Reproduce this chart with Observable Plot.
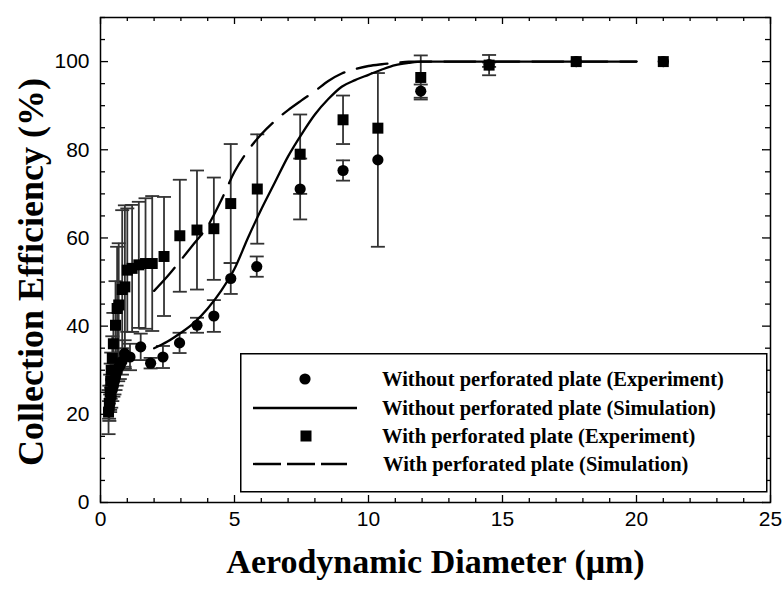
<!DOCTYPE html>
<html><head><meta charset="utf-8">
<script src="https://cdn.jsdelivr.net/npm/d3@7"></script>
<script src="https://cdn.jsdelivr.net/npm/@observablehq/plot@0.6"></script>
<style>
body{margin:0;background:#fff;}
#wrap{position:relative;width:783px;height:589px;}
#legend{position:absolute;left:240px;top:353px;}
</style></head><body><div id="wrap"><div id="chart"></div><div id="legend"></div></div>
<script>
// Without perforated plate (Experiment) - circles
const circX   = [0.32,0.36,0.40,0.44,0.48,0.52,0.56,0.60,0.66,0.72,0.80,0.90,1.10,1.50,1.87,2.33,2.95,3.60,4.23,4.86,5.83,7.45,9.05,10.35,11.95,14.50,17.75,21.00];
const circY   = [21,22.5,24,25.5,26.5,27.5,28.5,29.5,30.5,31,32,33.8,33,35.3,31.6,33,36.2,40.2,42.3,50.8,53.5,71.1,75.3,77.7,93.3,99.3,100,100];
const circErr = [2,2,2.5,2.5,2.5,3,3,3,3,3,3,3,3,3,1.2,2.5,2.3,1.7,3.6,3.5,2.3,6.9,2.3,19.7,1.5,0.5,0,0];
// With perforated plate (Experiment) - squares
const sqX   = [0.30,0.33,0.36,0.38,0.40,0.44,0.48,0.56,0.62,0.68,0.81,0.91,1.00,1.18,1.43,1.68,1.93,2.37,2.96,3.60,4.23,4.86,5.85,7.45,9.05,10.35,11.95,14.50,17.75,21.00];
const sqY   = [20.5,22.5,25,27.5,30,32.7,36,40.2,44,44.8,48.3,48.9,52.7,53.1,53.9,54.2,54.2,55.8,60.5,61.8,62.1,67.8,71.1,79,86.8,84.9,96.4,99.2,100,100];
const sqErr = [5,4,4,4,4,5,7,10,14,14,18,18.5,14,14.4,14.3,14.8,15.3,13.5,12.7,13.5,11.6,13.5,12.4,9,5.5,0,5,2.3,0,0];
// Simulations
const simX       = [2,2.5,3,3.5,4,4.5,5,5.5,6,6.5,7,7.5,8,8.5,9,9.5,10,10.5,11,11.5,12,13,14,15,16,17,18,19,20];
const simNoPlate = [35,36.5,38.5,40.8,44,48,53,60,66.5,72.5,78.5,83.5,88,91.5,94.3,95.8,97,98.2,99.2,99.7,100,100,100,100,100,100,100,100,100];
const simPlate   = [48,51.3,55,58.8,62.7,68.5,75,79.8,83.5,86.5,89,91.2,93.3,95.6,97.3,98.3,99,99.4,99.7,100,100,100,100,100,100,100,100,100,100];
// Axis ticks
const xTicks = [0,5,10,15,20,25];
const yTicks = [0,20,40,60,80,100];
const xMinor = d3.range(0,26,1).filter(v => v % 5 !== 0);
const yMinor = d3.range(0,111,5).filter(v => v % 20 !== 0);
const legendLabels = ["Without perforated plate (Experiment)","Without perforated plate (Simulation)","With perforated plate (Experiment)","With perforated plate (Simulation)"];

const W=783,H=589,mL=100,mR=13,mT=17,mB=87;
const pw=W-mL-mR, ph=H-mT-mB;
const circ = circX.map((x,i)=>({x,y:circY[i],e:circErr[i]}));
const sq = sqX.map((x,i)=>({x,y:sqY[i],e:sqErr[i]}));
const simA = simX.map((x,i)=>({x,y:simNoPlate[i]}));
const simB = simX.map((x,i)=>({x,y:simPlate[i]}));
const bars = [...sq, ...circ].filter(d=>d.e>0);
const caps = bars.flatMap(d=>[{x:d.x,y:d.y+d.e},{x:d.x,y:d.y-d.e}]);
const capSymbol = {draw(ctx){ctx.moveTo(-7,0);ctx.lineTo(7,0);}};
const ec = "#333";
const serif = "'Liberation Serif', 'Times New Roman', serif";

const chart = Plot.plot({
  width:W,height:H,marginLeft:mL,marginRight:mR,marginTop:mT,marginBottom:mB,
  x:{domain:[0,25]}, y:{domain:[0,110]},
  style:{fontFamily:"'Liberation Sans', Arial, sans-serif",fontSize:"21px",color:"black",background:"white"},
  marks:[
    Plot.ruleX(bars,{x:"x",y1:d=>d.y-d.e,y2:d=>d.y+d.e,stroke:ec,strokeWidth:1.8}),
    Plot.dot(caps,{x:"x",y:"y",symbol:capSymbol,r:7,fill:"none",stroke:ec,strokeWidth:1.8}),
    Plot.line(simA,{x:"x",y:"y",stroke:"black",strokeWidth:2.3,curve:"monotone-x"}),
    Plot.line(simB,{x:"x",y:"y",stroke:"black",strokeWidth:2.3,curve:"monotone-x",strokeDasharray:"31,13"}),
    Plot.dot(circ,{x:"x",y:"y",symbol:"circle",r:5.6,fill:"black",stroke:"none"}),
    Plot.dot(sq,{x:"x",y:"y",symbol:"square",r:6.2,fill:"black",stroke:"none"}),
    // inward ticks
    Plot.tickX(xTicks,{x:d=>d,insetTop:ph-7,stroke:"black",strokeWidth:1.3}),
    Plot.tickX(xMinor,{x:d=>d,insetTop:ph-4,stroke:"black",strokeWidth:1.3}),
    Plot.tickX(xTicks,{x:d=>d,insetBottom:ph-7,stroke:"black",strokeWidth:1.3}),
    Plot.tickX(xMinor,{x:d=>d,insetBottom:ph-4,stroke:"black",strokeWidth:1.3}),
    Plot.tickY(yTicks,{y:d=>d,insetRight:pw-8,stroke:"black",strokeWidth:1.3}),
    Plot.tickY(yMinor,{y:d=>d,insetRight:pw-5,stroke:"black",strokeWidth:1.3}),
    Plot.tickY(yTicks,{y:d=>d,insetLeft:pw-8,stroke:"black",strokeWidth:1.3}),
    Plot.tickY(yMinor,{y:d=>d,insetLeft:pw-5,stroke:"black",strokeWidth:1.3}),
    Plot.frame({stroke:"black",strokeWidth:1.5}),
    Plot.axisX(xTicks,{tickSize:0,tickPadding:9,label:null}),
    Plot.axisY(yTicks,{tickSize:0,tickPadding:11,label:null}),
    Plot.text(["Aerodynamic Diameter (μm)"],{frameAnchor:"bottom",dy:60,fontSize:34,fontWeight:"bold",fontFamily:serif,textAnchor:"middle",lineAnchor:"middle"}),
    Plot.text(["Collection Efficiency (%)"],{frameAnchor:"left",dx:-69,dy:12,rotate:-90,fontSize:36,fontWeight:"bold",fontFamily:serif,textAnchor:"middle",lineAnchor:"middle"})
  ]
});
document.getElementById("chart").appendChild(chart);

// Legend (inside plot area, as overlay)
const lg = d3.select("#legend").append("svg").attr("width",528).attr("height",140);
lg.append("rect").attr("x",0.75).attr("y",0.75).attr("width",526).attr("height",138).attr("fill","white").attr("stroke","black").attr("stroke-width",1.5);
const rows=[26,55,83,111];
lg.append("circle").attr("cx",65).attr("cy",rows[0]).attr("r",5.6).attr("fill","black");
lg.append("line").attr("x1",13).attr("x2",117).attr("y1",rows[1]).attr("y2",rows[1]).attr("stroke","black").attr("stroke-width",2.3);
lg.append("rect").attr("x",60.5).attr("y",rows[2]-5.5).attr("width",11).attr("height",11).attr("fill","black");
lg.append("line").attr("x1",13).attr("x2",107).attr("y1",rows[3]).attr("y2",rows[3]).attr("stroke","black").attr("stroke-width",2.3).attr("stroke-dasharray","28,6");
lg.selectAll("text.l").data(legendLabels).join("text").attr("class","l")
  .attr("x",(d,i)=>i===3?143:142).attr("y",(d,i)=>rows[i]).attr("dy","0.35em")
  .attr("font-family",serif).attr("font-weight","bold").attr("font-size",20.5)
  .text(d=>d);
</script></body></html>
